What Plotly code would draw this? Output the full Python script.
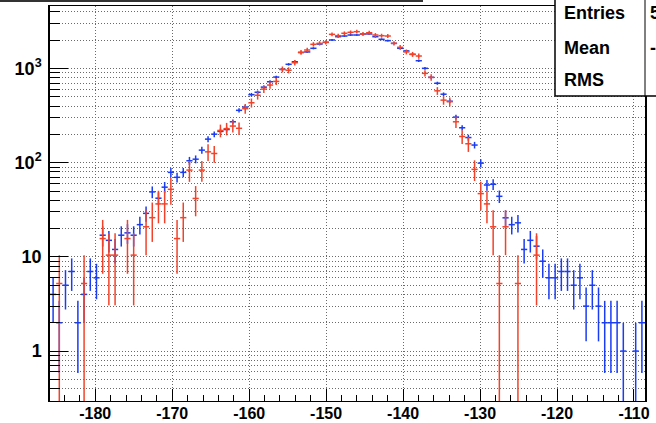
import numpy as np
import plotly.graph_objects as go

# ---------------- data ----------------
X_MIN, X_MAX, N_BINS = -185.88, -108.57, 96

blue_values = [
    4, 2, 5, 7, 2, 4, 7, 6, 17, 15,
    12, 17, 18, 17, 22, 29, 49, 42, 55, 79,
    70, 79, 105, 109, 136, 178, 201, 215, 225, 272,
    360, 390, 528, 560, 635, 724, 812, 980, 1109, 1181,
    1480, 1500, 1640, 1820, 1898, 2010, 2178, 2214, 2270, 2270,
    2326, 2330, 2178, 2043, 1977, 1850, 1640, 1540, 1415, 1211,
    1005, 806, 698, 534, 450, 305, 235, 185, 154, 99,
    58, 59, 44, 26, 22, 23, 12, 15, 13, 9,
    6, 6, 7, 7, 5, 6, 3, 5, 3, 2,
    2, 2, 1, 0, 1, 2,
]

red_values = [
    0, 5.22, 0, 0, 0, 5.22, 0, 0, 15.66, 10.44,
    10.44, 0, 15.66, 10.44, 0, 20.88, 26.1, 36.54, 36.54, 52.2,
    15.66, 26.1, 83.5, 41.76, 83.5, 130.5, 125.3, 220, 230, 245,
    232, 375, 433, 520, 605, 668, 730, 980, 960, 1153,
    1486, 1573, 1808, 1852, 1898, 2307, 2232, 2367, 2425, 2462,
    2326, 2400, 2270, 2232, 2214, 1852, 1680, 1500, 1415, 1358,
    889, 806, 580, 462, 444, 272, 190, 159, 85, 47,
    36.54, 20.88, 5.22, 20.88, 0, 5.22, 0, 0, 10.44, 0,
    0, 0, 0, 0, 0, 0, 0, 0, 0, 0,
    0, 0, 0, 0, 0, 0,
]
RED_WEIGHT = 5.22  # per-entry weight of the red histogram

x_tick_vals = [-180, -170, -160, -150, -140, -130, -120, -110]
x_tick_text = ["-180", "-170", "-160", "-150", "-140", "-130", "-120", "-110"]
y_tick_vals = [1, 10, 100, 1000]
y_tick_text = ["1", "10", "10<sup>2</sup>", "10<sup>3</sup>"]

stats_labels = ["Entries", "Mean", "RMS"]
stats_values = ["5", "-", ""]

# ---------------- build ----------------
edges = np.linspace(X_MIN, X_MAX, N_BINS + 1)
centers = 0.5 * (edges[:-1] + edges[1:])
half_w = 0.5 * (edges[1] - edges[0])

BLUE = "#1a3cf2"
RED = "#f2432a"


def hist_trace(vals, weight, color):
    xs, ys, up, dn = [], [], [], []
    for c, v in zip(centers, vals):
        if v <= 0:
            continue
        e = float(np.sqrt(v * weight))
        xs.append(float(c))
        ys.append(float(v))
        up.append(e)
        dn.append(min(e, v * 0.99999))
    return go.Scatter(
        x=xs, y=ys, mode="markers",
        marker=dict(size=1, opacity=0, color=color),
        error_x=dict(type="constant", value=half_w, thickness=1.5, width=0, color=color),
        error_y=dict(type="data", array=up, arrayminus=dn, symmetric=False,
                     thickness=1.5, width=0, color=color),
        showlegend=False, hoverinfo="skip",
    )


fig = go.Figure()
fig.add_trace(hist_trace(blue_values, 1.0, BLUE))
fig.add_trace(hist_trace(red_values, RED_WEIGHT, RED))

minor_y = [k * 10.0 ** d for d in range(-1, 4) for k in range(2, 10)]
minor_y = [v for v in minor_y if 0.29 < v < 4700]

GRID = "#6a6a6a"
FONT = "Liberation Sans"
L, R, T, B = 50, 11, 6, 22
W, H = 656, 423
PW, PH = W - L - R, H - T - B


def px_x(px):
    return (px - L) / PW


def px_y(py):
    return (H - B - py) / PH


fig.update_layout(
    width=W, height=H,
    margin=dict(l=L, r=R, t=T, b=B, autoexpand=False),
    paper_bgcolor="white", plot_bgcolor="white",
    xaxis=dict(
        range=[X_MIN, X_MAX], tickvals=x_tick_vals, ticktext=x_tick_text,
        automargin=False,
        ticks="inside", ticklen=12, tickcolor="black", tickwidth=1,
        minor=dict(dtick=2, tick0=0, ticks="inside", ticklen=6, tickcolor="black", showgrid=False),
        showgrid=True, gridcolor=GRID, griddash="1px,2px", gridwidth=1,
        showline=True, linecolor="black", linewidth=1, mirror=True, zeroline=False,
        tickfont=dict(family=FONT, size=16, color="black", weight="bold"),
        ticklabelstandoff=-2,
    ),
    yaxis=dict(
        type="log", range=[-0.53, 3.664], tickvals=y_tick_vals, ticktext=y_tick_text,
        automargin=False,
        ticks="inside", ticklen=18, tickcolor="black", tickwidth=1,
        minor=dict(tickvals=minor_y, ticks="inside", ticklen=10, tickcolor="black",
                   showgrid=True, gridcolor=GRID, griddash="1px,2px", gridwidth=1),
        showgrid=True, gridcolor=GRID, griddash="1px,2px", gridwidth=1,
        showline=True, linecolor="black", linewidth=1.5, mirror=True, zeroline=False,
        tickfont=dict(family=FONT, size=18, color="black", weight="bold"),
        ticklabelstandoff=3,
    ),
)

# top border line (cut-off title box)
fig.add_shape(type="line", xref="paper", yref="paper",
              x0=px_x(-5), x1=px_x(423), y0=px_y(1.0), y1=px_y(1.0),
              line=dict(color="#333333", width=2))

# stats box
fig.add_shape(type="rect", xref="paper", yref="paper",
              x0=px_x(555), x1=px_x(700), y0=px_y(96), y1=px_y(-10),
              line=dict(color="black", width=1.5), fillcolor="white", layer="above")
# right frame line visible through the stats box
fig.add_shape(type="line", xref="paper", yref="paper",
              x0=1, x1=1, y0=px_y(96), y1=px_y(0),
              line=dict(color="black", width=1), layer="above")
for i, (lab, val) in enumerate(zip(stats_labels, stats_values)):
    yp = px_y([13, 48, 80][i])
    fig.add_annotation(xref="paper", yref="paper", x=px_x(562), y=yp,
                       text=lab, showarrow=False, xanchor="left", yanchor="middle",
                       font=dict(family=FONT, size=18, color="black", weight="bold"))
    if val:
        fig.add_annotation(xref="paper", yref="paper", x=px_x(648), y=yp,
                           text=val, showarrow=False, xanchor="left", yanchor="middle",
                           font=dict(family=FONT, size=18, color="black", weight="bold"))

fig.write_html("out.html", config={"displayModeBar": False},
               post_script="document.body.style.margin='0';")
